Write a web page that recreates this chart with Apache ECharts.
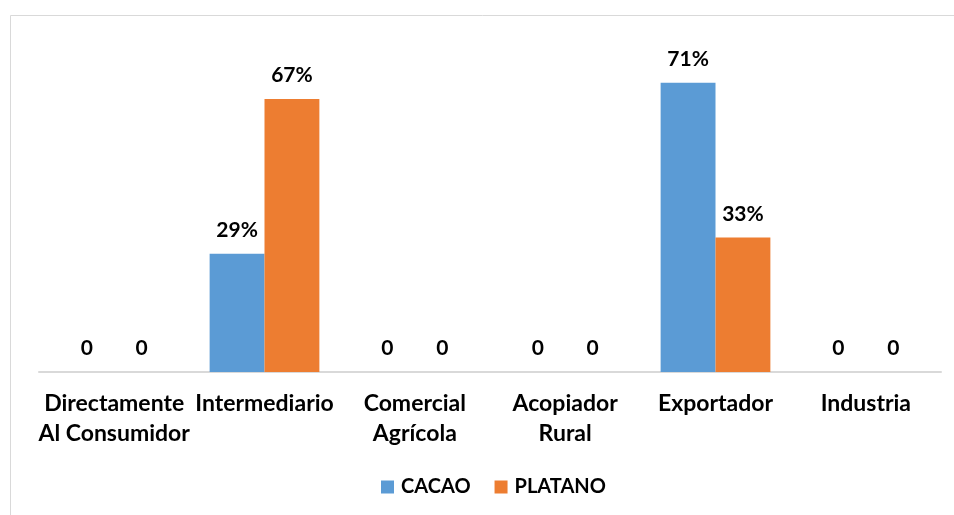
<!DOCTYPE html>
<html><head><meta charset="utf-8">
<script src="https://cdn.jsdelivr.net/npm/echarts@6/dist/echarts.min.js"></script>
<style>html,body{margin:0;padding:0;background:#fff}#c{width:954px;height:515px}</style>
</head><body><div id="c"></div>
<script>
const categories = ['Directamente\nAl Consumidor', 'Intermediario', 'Comercial\nAgrícola', 'Acopiador\nRural', 'Exportador', 'Industria'];
const cacao = [0, 29, 0, 0, 71, 0];
const platano = [0, 67, 0, 0, 33, 0];
const seriesNames = ['CACAO', 'PLATANO'];
const colors = ['#5B9BD5', '#ED7D31'];

const font = 'Lato, "Open Sans", sans-serif';
const chart = echarts.init(document.getElementById('c'), null, {renderer: 'canvas'});
const lbl = {
  show: true, position: 'top', distance: 13, color: '#000', fontFamily: font, fontWeight: 'bold', fontSize: 21,
  formatter: p => p.value === 0 ? '0' : p.value + '%'
};
chart.setOption({
  animation: false,
  graphic: [{type: 'rect', shape: {x: 10.5, y: 15.5, width: 1000, height: 600}, style: {fill: 'none', stroke: '#d9d9d9', lineWidth: 1}}],
  grid: {left: 39, right: 13, top: 46, bottom: 143, containLabel: false},
  legend: {
    data: seriesNames, top: 477, left: 381, padding: 0, itemWidth: 13, itemHeight: 13, itemGap: 24,
    icon: 'rect',
    textStyle: {color: '#000', fontFamily: font, fontWeight: 'bold', fontSize: 20, padding: [0, 0, 0, 2]}
  },
  xAxis: {
    type: 'category', data: categories,
    axisLine: {lineStyle: {color: '#d9d9d9', width: 2}},
    axisTick: {show: false},
    axisLabel: {color: '#000', fontFamily: font, fontWeight: 'bold', fontSize: 23, lineHeight: 30, margin: 17, interval: 0}
  },
  yAxis: {type: 'value', min: 0, max: 80, show: false, splitLine: {show: false}},
  series: [
    {name: seriesNames[0], type: 'bar', data: cacao, itemStyle: {color: colors[0]}, barGap: '0%', barCategoryGap: '27%', label: lbl},
    {name: seriesNames[1], type: 'bar', data: platano, itemStyle: {color: colors[1]}, barGap: '0%', barCategoryGap: '27%', label: lbl}
  ]
});
</script></body></html>
